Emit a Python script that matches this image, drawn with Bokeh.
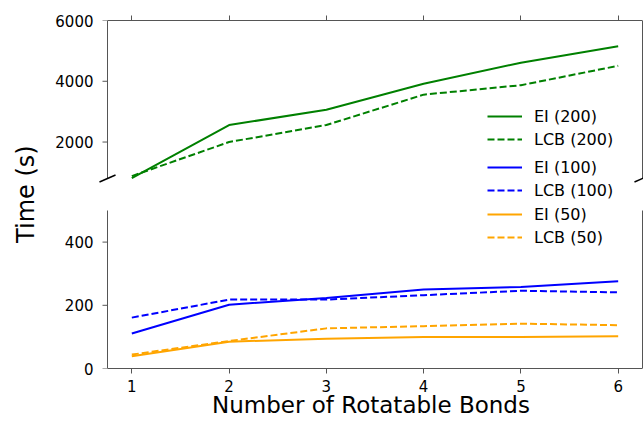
import math
from bokeh.plotting import figure
from bokeh.layouts import row
from bokeh.models import Range1d, LinearAxis, FixedTicker, Legend, LegendItem
from bokeh.core.properties import value
from bokeh.embed import file_html
from bokeh.resources import INLINE

# ---- data ----
bonds = [1, 2, 3, 4, 5, 6]
ei_200 = [810, 2560, 3060, 3920, 4610, 5150]
lcb_200 = [880, 2000, 2560, 3560, 3870, 4510]
ei_100 = [111, 202, 223, 250, 258, 276]
lcb_100 = [161, 218, 218, 232, 246, 241]
ei_50 = [39, 85, 94, 100, 100, 102]
lcb_50 = [44, 87, 127, 134, 142, 137]
x_ticks = [1, 2, 3, 4, 5, 6]
top_ticks = [2000, 4000, 6000]
bottom_ticks = [0, 200, 400]
x_lim = (0.75, 6.25)
top_lim = (800, 6000)
bottom_lim = (0, 500)

# ---- layout constants (pixels) ----
FONT = "DejaVu Sans"
SPINE = "#555555"
DASH = "7 3"
LW = 2
LABEL_W = 50
TOTAL_H = 421
FRAME_L, FRAME_R = 98, 643          # drawing frame (includes break marks)
AX_L, AX_R = 107, 642               # visible spines
TOP_Y0, TOP_Y1 = 20, 178            # top panel (screen y)
BOT_Y0, BOT_Y1 = 210, 368           # bottom panel (screen y)
TICK = 5

frame_w = FRAME_R - FRAME_L
frame_h = BOT_Y1 - TOP_Y0
px_x = (AX_R - AX_L) / (x_lim[1] - x_lim[0])
ppu_b = (BOT_Y1 - BOT_Y0) / (bottom_lim[1] - bottom_lim[0])
ppu_t = (TOP_Y1 - TOP_Y0) / (top_lim[1] - top_lim[0])

x_range = Range1d(x_lim[0] - (AX_L - FRAME_L) / px_x, x_lim[1] + (FRAME_R - AX_R) / px_x)
y_range = Range1d(bottom_lim[0], bottom_lim[1] + (BOT_Y0 - TOP_Y0) / ppu_b)
top_range = Range1d(top_lim[0] - (BOT_Y1 - TOP_Y1) / ppu_t, top_lim[1])

p = figure(frame_width=frame_w, frame_height=frame_h, x_range=x_range,
           y_range=y_range, output_backend="svg", toolbar_location=None,
           x_axis_location="below", min_border_left=FRAME_L - LABEL_W,
           min_border_right=0, min_border_top=TOP_Y0,
           min_border_bottom=TOTAL_H - BOT_Y1)
p.extra_y_ranges = {"top": top_range}
p.grid.visible = False
p.outline_line_color = None


def style_x(ax):
    ax.ticker = FixedTicker(ticks=x_ticks)
    ax.bounds = x_lim
    ax.axis_line_color = SPINE
    ax.axis_line_width = 1
    ax.major_tick_line_color = SPINE
    ax.major_tick_in = 0
    ax.major_tick_out = TICK
    ax.minor_tick_line_color = None
    ax.minor_tick_in = 0
    ax.minor_tick_out = 0
    ax.major_label_text_font = FONT
    ax.major_label_text_font_size = "15px"
    ax.major_label_text_color = "black"


# bottom x axis (bottom spine)
xb = p.xaxis[0]
style_x(xb)
xb.major_label_standoff = 6
xb.axis_label = "Number of Rotatable Bonds"
xb.axis_label_text_font = FONT
xb.axis_label_text_font_size = "23px"
xb.axis_label_text_font_style = "normal"
xb.axis_label_text_color = "black"
xb.axis_label_standoff = -3

# top x axis (top spine, ticks only)
xt = LinearAxis()
style_x(xt)
xt.major_label_overrides = {t: "" for t in x_ticks}
xt.major_label_standoff = 0
p.add_layout(xt, "above")


# left axis: tick labels for both panels
def to_bottom_units(v):
    frac = (v - top_range.start) / (top_range.end - top_range.start)
    return y_range.start + frac * (y_range.end - y_range.start)


yl = p.yaxis[0]
tick_pos = list(bottom_ticks) + [to_bottom_units(v) for v in top_ticks]
yl.ticker = FixedTicker(ticks=tick_pos)
overrides = {}
for v in bottom_ticks:
    overrides[v] = str(v)
for v in top_ticks:
    overrides[to_bottom_units(v)] = str(v)
yl.major_label_overrides = overrides
yl.axis_line_color = None
yl.major_tick_line_color = None
yl.minor_tick_line_color = None
yl.major_tick_in = 0
yl.major_tick_out = 0
yl.minor_tick_in = 0
yl.minor_tick_out = 0
yl.major_label_text_font = FONT
yl.major_label_text_font_size = "15px"
yl.major_label_text_color = "black"
yl.major_label_standoff = 5

# spines (left / right) and y tick marks
tick_dx = TICK / px_x
for xe in x_lim:
    p.line([xe, xe], list(top_lim), y_range_name="top", color=SPINE, line_width=1)
    p.line([xe, xe], list(bottom_lim), color=SPINE, line_width=1)
p.segment(x0=[x_lim[0] - tick_dx] * len(top_ticks), x1=[x_lim[0]] * len(top_ticks),
          y0=top_ticks, y1=top_ticks, y_range_name="top", color=SPINE, line_width=1)
p.segment(x0=[x_lim[0] - tick_dx] * len(bottom_ticks), x1=[x_lim[0]] * len(bottom_ticks),
          y0=bottom_ticks, y1=bottom_ticks, color=SPINE, line_width=1)

# break marks
dx = 0.015 * (x_lim[1] - x_lim[0])
dy = 0.022 * (top_lim[1] - top_lim[0])
p.segment(x0=[x_lim[0] - dx, x_lim[1] - dx], x1=[x_lim[0] + dx, x_lim[1] + dx],
          y0=[top_lim[0] - dy] * 2, y1=[top_lim[0] + dy] * 2,
          y_range_name="top", color="black", line_width=1.5)

# ---- series ----
r_ei200 = p.line(bonds, ei_200, y_range_name="top", color="green", line_width=LW)
r_lcb200 = p.line(bonds, lcb_200, y_range_name="top", color="green", line_width=LW, line_dash=DASH)
r_ei100 = p.line(bonds, ei_100, color="blue", line_width=LW)
r_lcb100 = p.line(bonds, lcb_100, color="blue", line_width=LW, line_dash=DASH)
r_ei50 = p.line(bonds, ei_50, color="orange", line_width=LW)
r_lcb50 = p.line(bonds, lcb_50, color="orange", line_width=LW, line_dash=DASH)


def make_legend(items, loc):
    return Legend(items=items, location=loc, orientation="vertical",
                  label_text_font=FONT, label_text_font_size="16px",
                  label_text_color="black", glyph_width=35, glyph_height=20,
                  label_height=20, spacing=3, padding=0, margin=0,
                  label_standoff=12, border_line_color=None,
                  background_fill_alpha=0)


LEG_X = 487 - FRAME_L
p.add_layout(make_legend([LegendItem(label="EI (200)", renderers=[r_ei200]),
                          LegendItem(label="LCB (200)", renderers=[r_lcb200])],
                         (LEG_X, BOT_Y1 - 149)))
p.add_layout(make_legend([LegendItem(label="EI (100)", renderers=[r_ei100]),
                          LegendItem(label="LCB (100)", renderers=[r_lcb100])],
                         (LEG_X, BOT_Y1 - 200)))
p.add_layout(make_legend([LegendItem(label="EI (50)", renderers=[r_ei50]),
                          LegendItem(label="LCB (50)", renderers=[r_lcb50])],
                         (LEG_X, BOT_Y1 - 247)))

# ---- shared y label ----
lab = figure(width=LABEL_W, height=TOTAL_H, x_range=Range1d(0, LABEL_W),
             y_range=Range1d(0, TOTAL_H), x_axis_type=None, y_axis_type=None,
             output_backend="svg", toolbar_location=None, min_border=0)
lab.outline_line_color = None
lab.grid.visible = False
lab.text(x=[25], y=[TOTAL_H - 210], text=["Time (s)"], angle=math.pi / 2,
         text_font=value(FONT), text_font_size="24px", text_align="center",
         text_baseline="middle", text_color="black")

layout = row(lab, p)
open("out.html", "w").write(file_html(layout, INLINE))
